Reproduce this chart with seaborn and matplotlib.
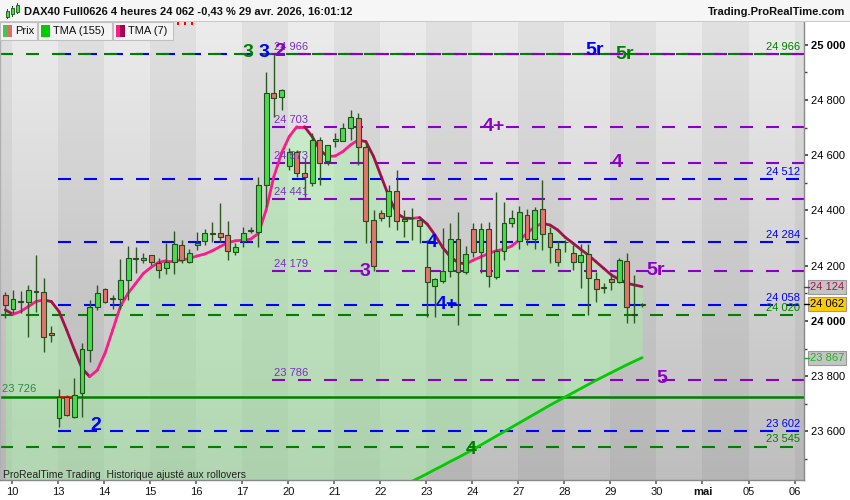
import numpy as np
import pandas as pd
import matplotlib
matplotlib.use("Agg")
import matplotlib.pyplot as plt
import seaborn as sns
from matplotlib.patches import Rectangle
from matplotlib.collections import LineCollection

sns.set_theme(style="white")
plt.rcParams['font.family'] = ['Liberation Sans', 'DejaVu Sans']
plt.rcParams['lines.scale_dashes'] = False

# ---------------- data ----------------
opens = [24093, 24042, 24070, 24068, 24104, 24103, 23955, 23647, 23726, 23653,
         23738, 23895, 24049, 24115, 24080, 24079, 24148, 24229, 24222, 24237,
         24211, 24193, 24214, 24274, 24214, 24276, 24290, 24318, 24317, 24311,
         24251, 24291, 24330, 24323, 24492, 24824, 24809, 24559, 24613, 24534,
         24498, 24655, 24577, 24651, 24653, 24697, 24733, 24631, 24366, 24390,
         24380, 24472, 24360, 24372, 24365, 24194, 24127, 24145, 24182, 24295,
         24176, 24331, 24250, 24331, 24160, 24253, 24353, 24290, 24385, 24295,
         24404, 24317, 24262, 24284, 24244, 24214, 24241, 24150, 24118, 24150,
         24142, 24217, 24025, 24057]
highs = [24105, 24112, 24110, 24130, 24239, 24157, 23982, 23752, 23730, 23792,
         23921, 24076, 24130, 24118, 24094, 24225, 24271, 24268, 24245, 24240,
         24226, 24283, 24325, 24293, 24259, 24321, 24333, 24357, 24425, 24362,
         24281, 24341, 24341, 24522, 24902, 24966, 24840, 24625, 24619, 24590,
         24679, 24667, 24637, 24679, 24715, 24764, 24754, 24643, 24402, 24402,
         24492, 24546, 24402, 24407, 24372, 24293, 24155, 24335, 24353, 24395,
         24271, 24353, 24353, 24359, 24465, 24429, 24403, 24415, 24405, 24413,
         24510, 24340, 24290, 24293, 24274, 24280, 24280, 24178, 24138, 24172,
         24226, 24244, 24166, 24066]
lows = [24010, 24027, 24030, 23943, 24033, 23889, 23925, 23617, 23656, 23647,
        23653, 23852, 24039, 24066, 24043, 24043, 24076, 24172, 24208, 24202,
        24154, 24169, 24169, 24208, 24208, 24257, 24275, 24285, 24287, 24220,
        24239, 24269, 24317, 24269, 24414, 24739, 24764, 24546, 24522, 24450,
        24490, 24492, 24565, 24631, 24653, 24655, 24565, 24281, 24179, 24360,
        24341, 24329, 24305, 24293, 24281, 24015, 24015, 24136, 24160, 23985,
        24170, 24232, 24172, 24124, 24150, 24220, 24341, 24262, 24275, 24262,
        24256, 24208, 24200, 24250, 24184, 24118, 24021, 24069, 24102, 24112,
        24136, 23993, 23991, 24050]
closes = [24056, 24078, 24073, 24111, 24107, 23943, 23948, 23726, 23660, 23732,
          23897, 24049, 24100, 24067, 24083, 24148, 24226, 24223, 24228, 24212,
          24184, 24214, 24277, 24220, 24245, 24283, 24317, 24313, 24305, 24253,
          24266, 24317, 24325, 24492, 24824, 24806, 24836, 24613, 24534, 24522,
          24655, 24573, 24637, 24660, 24697, 24737, 24631, 24360, 24197, 24372,
          24470, 24360, 24370, 24374, 24345, 24140, 24150, 24182, 24295, 24176,
          24241, 24250, 24331, 24164, 24253, 24356, 24371, 24393, 24295, 24401,
          24314, 24266, 24212, 24287, 24214, 24237, 24154, 24114, 24121, 24139,
          24220, 24051, 24020, 24062]
tma7 = [24040, 24024, 24034, 24052, 24070, 24076, 24070, 24034, 23967, 23895,
        23828, 23798, 23822, 23883, 23967, 24052, 24100, 24136, 24172, 24194,
        24212, 24218, 24218, 24220, 24226, 24235, 24242, 24254, 24269, 24283,
        24290, 24292, 24296, 24317, 24402, 24522, 24607, 24667, 24703, 24703,
        24667, 24619, 24595, 24597, 24613, 24637, 24655, 24649, 24595, 24522,
        24450, 24390, 24372, 24371, 24374, 24350, 24311, 24266, 24232, 24211,
        24206, 24220, 24232, 24244, 24254, 24259, 24271, 24293, 24317, 24341,
        24353, 24347, 24329, 24302, 24281, 24259, 24238, 24214, 24190, 24166,
        24150, 24136, 24130, 24124]
tma155_first_bar = 52
tma155 = [23405, 23419, 23433, 23447, 23462, 23476, 23491, 23505, 23520, 23535,
          23551, 23567, 23583, 23599, 23615, 23631, 23647, 23663, 23679, 23695,
          23710, 23725, 23740, 23755, 23770, 23785, 23799, 23813, 23827, 23841,
          23854, 23867]
day_labels = ["10", "13", "14", "15", "16", "17", "20", "21", "22", "23", "24",
              "27", "28", "29", "30", "mai", "05", "06"]
price_ticks = [23600, 23800, 24000, 24200, 24400, 24600, 24800, 25000]

green_dashed_levels = [24966, 24020, 23545]
blue_levels = [24966, 24512, 24284, 24058, 23602]
blue_right_labels = [24512, 24284, 24058, 23602]
purple_levels = [24966, 24703, 24573, 24441, 24179, 23786]
green_solid_level = 23726

mark_texts = ["3", "3", "2", "5r", "5r", "4+", "4", "4", "4+", "3", "5r", "5", "2", "4"]
mark_levels = [24966, 24966, 24966, 24966, 24966, 24703, 24573, 24284, 24058, 24179,
               24179, 23786, 23602, 23545]
mark_colors = ["g", "b", "p", "b", "g", "p", "p", "b", "b", "p", "p", "p", "b", "g"]

header = "DAX40 Full0626 4 heures 24 062 -0,43 % 29 avr. 2026, 16:01:12"

# ---------------- layout / style ----------------
GREEN = "#008000"
BLUE = "#0000ff"
PURPLE = "#8a00c8"
PURPLE_TXT = "#7b30c0"
COL = {"g": GREEN, "b": BLUE, "p": PURPLE}
mark_x = [31.6, 33.7, 35.8, 76.8, 80.7, 63.7, 79.8, 55.6, 57.6, 46.9, 84.8, 85.6, 11.8, 60.7]
mark_dy = [1.5, 1.5, 3, 3.5, -0.5, 0.5, 0, 0, 0.5, -0.5, 0.5, 1.5, 5, -3]

XMIN, XMAX = -0.69, 104.1
YMIN, YMAX = 23424, 25082
DASH = (0, (9.36, 9.36))

fig = plt.figure(figsize=(8.5, 5), dpi=100)
fig.patch.set_facecolor("white")
ax = fig.add_axes([0, 20 / 500, 804 / 850, 458 / 500])

n = len(opens)
x = np.arange(n)

# background gradient and day stripes
grad = np.linspace(0, 1, 256)[:, None, None]
top = np.array([0.925, 0.925, 0.925])
bot = np.array([0.745, 0.745, 0.745])
img = bot + (top - bot) * grad
ax.imshow(img, extent=[XMIN, XMAX, YMIN, YMAX], origin="lower", aspect="auto", zorder=0)
day_ticks = [0.87 + 6 * d for d in range(len(day_labels))]
for d in range(-1, len(day_labels)):
    if d % 2 != 0:
        b = 0.87 + 6 * d
        ax.axvspan(b, b + 6, color="k", alpha=0.05, lw=0, zorder=0.5)

# green fill between TMA7 and TMA155 (or the bottom)
lower = np.full(n, YMIN - 200.0)
lower[tma155_first_bar:] = tma155
ax.fill_between(x, tma7, lower, color="#a0ffa0", alpha=0.38, lw=0, zorder=1)

# level lines
swing_bar = int(np.argmax(highs))
low_bar = int(np.argmin(lows))
blue_x0 = low_bar - 0.13
purple_x0 = swing_bar - 0.2
for lv in blue_levels:
    ax.plot([blue_x0, XMAX], [lv, lv], color=BLUE, lw=1.5, linestyle=DASH,
            dash_capstyle="butt", zorder=2)
for lv in green_dashed_levels:
    ax.plot([XMIN, XMAX], [lv, lv], color=GREEN, lw=1.5, linestyle=DASH,
            dash_capstyle="butt", zorder=2.2)
for lv in purple_levels:
    ax.plot([purple_x0, XMAX], [lv, lv], color=PURPLE, lw=1.5, linestyle=DASH,
            dash_capstyle="butt", zorder=2.3)
ax.axhline(green_solid_level, color=GREEN, lw=1.8, zorder=2.4)
ax.plot([low_bar - 0.13, low_bar + 1.83], [green_solid_level] * 2, color="#ff0000",
        lw=1.8, zorder=2.5)

# TMA 155
sns.lineplot(x=x[tma155_first_bar:], y=tma155, color="#00cc00", lw=2, ax=ax, zorder=3)

# TMA 7 two-coloured
pts = np.column_stack([x, tma7])
segs = np.stack([pts[:-1], pts[1:]], axis=1)
cols = ["#ff1a8c" if tma7[i + 1] >= tma7[i] else "#a3104e" for i in range(n - 1)]
ax.add_collection(LineCollection(segs, colors=cols, linewidths=2, zorder=3.2,
                                 capstyle="round", joinstyle="round"))

# candles
o = np.array(opens); c = np.array(closes)
ax.vlines(x, lows, highs, color="#2c5a1e", lw=1, zorder=4)
bull = c >= o
body_bot = np.minimum(o, c)
body_h = np.maximum(np.abs(c - o), 1.5)
ax.bar(x, body_h, bottom=body_bot, width=0.64,
       color=np.where(bull, "#4cdb4c", "#e8736c"), edgecolor="#1e501e", lw=0.8, zorder=5)

# labels on levels
for lv in green_dashed_levels:
    ax.annotate(f"{lv:,}".replace(",", " "), xy=(0.995, lv), xycoords=ax.get_yaxis_transform(),
                xytext=(0, 1.5), textcoords="offset points", ha="right", va="bottom",
                fontsize=8, color=GREEN, zorder=6)
for lv in blue_right_labels:
    ax.annotate(f"{lv:,}".replace(",", " "), xy=(0.995, lv), xycoords=ax.get_yaxis_transform(),
                xytext=(0, 1.5), textcoords="offset points", ha="right", va="bottom",
                fontsize=8, color=BLUE, zorder=6)
for lv in purple_levels:
    ax.annotate(f"{lv:,}".replace(",", " "), xy=(swing_bar, lv), xytext=(0, 1.5),
                textcoords="offset points", ha="left", va="bottom",
                fontsize=8, color=PURPLE_TXT, zorder=6)
ax.annotate(f"{green_solid_level:,}".replace(",", " "), xy=(-0.43, green_solid_level),
            xytext=(0, 1.5), textcoords="offset points", ha="left", va="bottom",
            fontsize=8, color="#2a8a4a", zorder=6)

for t, lv, ck, mx, dy in zip(mark_texts, mark_levels, mark_colors, mark_x, mark_dy):
    ax.annotate(t, xy=(mx, lv), xytext=(0, dy * 0.72), textcoords="offset points",
                ha="center", va="center", fontsize=14, fontweight="bold",
                color=COL[ck], zorder=7)

ax.text(3 / 804, 5 / 458, "ProRealTime Trading  Historique ajusté aux rollovers",
        transform=ax.transAxes, fontsize=7.5, color="#222222", va="center", ha="left", zorder=7)

# axes
ax.set_xlim(XMIN, XMAX)
ax.set_ylim(YMIN, YMAX)
ax.set_xlabel("")
ax.set_ylabel("")
ax.yaxis.tick_right()
ax.set_yticks(price_ticks, labels=[f"{v:,}".replace(",", " ") for v in price_ticks])
ax.set_yticks([v + 100 for v in price_ticks[:-1]] + [23500], minor=True)
ax.tick_params(axis="y", which="both", direction="out", right=True, left=False,
               labelsize=8, length=3, pad=2, colors="#444444", labelcolor="black")
ax.tick_params(axis="y", which="minor", length=2)
for lbl in ax.get_yticklabels():
    if lbl.get_text() in ("25 000", "24 000"):
        lbl.set_fontweight("bold")
ax.set_xticks(day_ticks, labels=day_labels)
ax.tick_params(axis="x", direction="out", bottom=True, labelsize=8, length=3, pad=2,
               colors="#666666", labelcolor="#111111")
for lbl in ax.get_xticklabels():
    if lbl.get_text() == "mai":
        lbl.set_fontweight("bold")
for s in ("top",):
    ax.spines[s].set_visible(False)
ax.spines["left"].set_color("#b0b0b0")
ax.spines["right"].set_color("#888888")
ax.spines["bottom"].set_color("#888888")
for s in ("left", "right", "bottom"):
    ax.spines[s].set_linewidth(1)

# price boxes on the right axis
ytr = ax.get_yaxis_transform()
for val, tc, fc in [(tma7[-1], "#b0104e", "#c4c4c4"), (closes[-1], "black", "#ffcc00"),
                    (tma155[-1], "#22b022", "#c4c4c4")]:
    ax.annotate(f"{val:,}".replace(",", " "), xy=(1, val), xycoords=ytr, xytext=(4, 0),
                textcoords="offset points", ha="left", va="center", fontsize=8, color=tc,
                bbox=dict(boxstyle="square,pad=0.18", fc=fc, ec="#999999", lw=0.8),
                annotation_clip=False, zorder=8)
    ax.plot([1.0, 1.006], [val, val], transform=ytr, color=tc, lw=1, clip_on=False, zorder=8)

# header and legend (figure level)
def fx(px):
    return px / 850

def fy(py):
    return 1 - py / 500

fig.add_artist(Rectangle((0, fy(21)), 1, 21 / 500, transform=fig.transFigure,
                         fc="#f6f6f6", ec="none", zorder=1))
fig.add_artist(Rectangle((0, fy(22)), 1, 1 / 500, transform=fig.transFigure,
                         fc="#c8c8c8", ec="none", zorder=1))
# candle icon
for cx, y0, y1, w0, w1 in [(6, 11, 17, 9, 19), (11, 8, 14, 6, 17), (16, 5, 12, 3, 14)]:
    fig.add_artist(Rectangle((fx(cx + 1), fy(w1)), 0.6 / 850, (w1 - w0) / 500,
                             transform=fig.transFigure, fc="#2c5a1e", ec="none", zorder=2))
    fig.add_artist(Rectangle((fx(cx), fy(y1)), 3 / 850, (y1 - y0) / 500,
                             transform=fig.transFigure, fc="#4cdb4c", ec="#1e501e", lw=0.6, zorder=3))
fig.text(fx(24), fy(12), header, fontsize=8, fontweight="bold", ha="left", va="center",
         color="#111111", zorder=3)
fig.text(fx(845), fy(12), "Trading.ProRealTime.com", fontsize=8, fontweight="bold",
         ha="right", va="center", color="#111111", zorder=3)

legend_boxes = [(0, 37, "Prix", ["#4cc24c", "#e06b6b"]),
                (38, 112, "TMA (155)", ["#00cc00", "#00cc00"]),
                (113, 173, "TMA (7)", ["#ff1a8c", "#a3004e"])]
for x0, x1, txt, sw in legend_boxes:
    fig.add_artist(Rectangle((fx(x0), fy(40)), (x1 - x0) / 850, 18 / 500,
                             transform=fig.transFigure, fc="#f3f3f3", ec="#c0c0c0",
                             lw=0.8, zorder=10))
    fig.add_artist(Rectangle((fx(x0 + 3), fy(37)), 4.5 / 850, 12 / 500,
                             transform=fig.transFigure, fc=sw[0], ec="none", zorder=11))
    fig.add_artist(Rectangle((fx(x0 + 7.5), fy(37)), 4.5 / 850, 12 / 500,
                             transform=fig.transFigure, fc=sw[1], ec="none", zorder=11))
    fig.text(fx(x0 + 15), fy(31), txt, fontsize=8, ha="left", va="center",
             color="#111111", zorder=12)
for px in (178, 185, 192):
    fig.add_artist(Rectangle((fx(px - 1.2), fy(24.5)), 2.5 / 850, 2.5 / 500,
                             transform=fig.transFigure, fc="#ff0000", ec="none", zorder=12))

fig.savefig("out.png", dpi=100)
